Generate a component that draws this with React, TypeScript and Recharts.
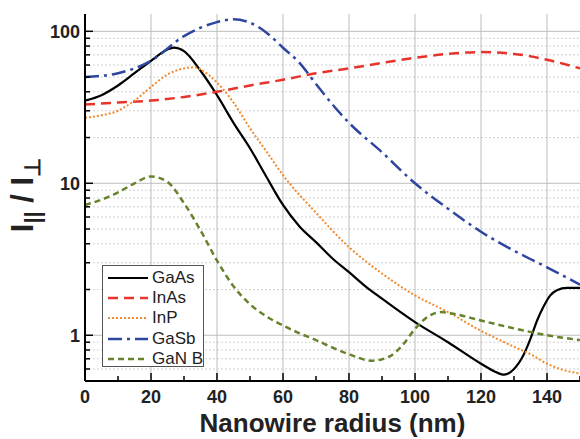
import { LineChart, Line, XAxis, YAxis, ReferenceLine } from 'recharts'

// radius (nm) / ratio pairs
const gaasR = [0, 5, 10, 15, 20, 25, 27, 30, 35, 40, 45, 50, 55, 60, 65, 70, 75, 80, 85, 90, 100, 110, 120, 124, 127, 130, 133, 135, 137, 139, 141, 143, 146, 150]
const gaasV = [35, 38, 44, 53, 64, 76, 78, 74, 55, 38, 25, 17, 11, 7.2, 5.2, 4.1, 3.2, 2.6, 2.1, 1.74, 1.22, 0.9, 0.65, 0.58, 0.55, 0.6, 0.75, 0.95, 1.25, 1.55, 1.83, 1.98, 2.05, 2.05]

const inasR = [0, 10, 20, 30, 40, 50, 60, 70, 80, 90, 100, 110, 120, 130, 140, 150]
const inasV = [33, 34, 35, 37, 40, 44, 48, 53, 57, 62, 67, 71, 73, 71, 65, 57]

const inpR = [0, 5, 10, 15, 20, 25, 30, 33, 35, 40, 45, 50, 55, 60, 70, 80, 90, 100, 110, 120, 130, 135, 140, 145, 150]
const inpV = [27, 28, 30, 35, 43, 52, 57, 58, 56, 46, 34, 23, 16.2, 11.3, 6.4, 3.8, 2.55, 1.83, 1.42, 1.07, 0.84, 0.75, 0.65, 0.59, 0.56]

const gasbR = [0, 10, 20, 30, 40, 45, 50, 55, 60, 65, 70, 75, 80, 90, 100, 110, 120, 130, 140, 150]
const gasbV = [50, 53, 64, 93, 115, 120, 114, 98, 78, 62, 45, 33, 25, 16, 10, 6.8, 4.8, 3.6, 2.8, 2.15]

const ganR = [0, 5, 10, 15, 20, 25, 30, 35, 40, 45, 50, 55, 60, 65, 70, 75, 80, 87, 92, 96, 100, 104, 108, 112, 120, 130, 140, 150]
const ganV = [7.2, 7.8, 8.7, 10, 11.1, 10.2, 7.4, 4.9, 3.1, 2.1, 1.6, 1.33, 1.16, 1.03, 0.93, 0.83, 0.75, 0.68, 0.72, 0.85, 1.1, 1.33, 1.42, 1.38, 1.25, 1.11, 1.0, 0.93]

const xTicks = [0, 10, 20, 30, 40, 50, 60, 70, 80, 90, 100, 110, 120, 130, 140, 150]
const yTicks = [0.5, 0.6, 0.7, 0.8, 0.9, 1, 2, 3, 4, 5, 6, 7, 8, 9, 10, 20, 30, 40, 50, 60, 70, 80, 90, 100]
const yMajor = [1, 10, 100]

const zip = (r: number[], v: number[]) => r.map((x, i) => ({ r: x, v: v[i] }))

const series = [
  { name: 'GaAs', data: zip(gaasR, gaasV), color: '#000000', dash: undefined, width: 2.2 },
  { name: 'InAs', data: zip(inasR, inasV), color: '#e8332a', dash: '10 6', width: 2.5 },
  { name: 'InP', data: zip(inpR, inpV), color: '#f08a2c', dash: '2 2', width: 2 },
  { name: 'GaSb', data: zip(gasbR, gasbV), color: '#2e46a0', dash: '14 5 3 5', width: 2.5 },
  { name: 'GaN B', data: zip(ganR, ganV), color: '#66822a', dash: '6 4', width: 2.5 },
]

const font = '"Liberation Sans", Arial, sans-serif'

function XTick({ x, y, payload }: any) {
  const major = payload.value % 20 === 0
  return (
    <g>
      <line x1={x} x2={x} y1={y} y2={y - (major ? 8 : 5)} stroke="#000" strokeWidth={1.5} />
      {major && (
        <text x={x} y={y + 22} textAnchor="middle" fontSize={18} fontWeight="bold" fontFamily={font} fill="#222">
          {payload.value}
        </text>
      )}
    </g>
  )
}

function TopTick({ x, y, payload }: any) {
  const major = payload.value % 20 === 0
  return <line x1={x} x2={x} y1={y} y2={y + (major ? 8 : 5)} stroke="#000" strokeWidth={1.5} />
}

function YTick({ x, y, payload }: any) {
  const major = yMajor.includes(payload.value)
  return (
    <g>
      <line x1={x} x2={x + (major ? 8 : 5)} y1={y} y2={y} stroke="#000" strokeWidth={1.5} />
      {major && (
        <text x={x - 5} y={y} dy={6.5} textAnchor="end" fontSize={18} fontWeight="bold" fontFamily={font} fill="#222">
          {payload.value}
        </text>
      )}
    </g>
  )
}

export default function App() {
  return (
    <div style={{ position: 'absolute', left: 0, top: 0, width: 580, height: 439, background: '#fff' }}>
      <LineChart width={580} height={439} margin={{ top: 14, right: 0, bottom: 0, left: 0 }}>
        <XAxis
          dataKey="r"
          type="number"
          domain={[0, 150]}
          ticks={xTicks}
          interval={0}
          height={58}
          tickSize={0}
          tickMargin={0}
          tick={<XTick />}
          axisLine={{ stroke: '#000', strokeWidth: 2 }}
          allowDuplicatedCategory={false}
        />
        <XAxis
          xAxisId="top"
          orientation="top"
          dataKey="r"
          type="number"
          domain={[0, 150]}
          ticks={xTicks}
          interval={0}
          height={0}
          tickSize={0}
          tickMargin={0}
          tick={<TopTick />}
          axisLine={{ stroke: '#000', strokeWidth: 2 }}
        />
        <YAxis
          dataKey="v"
          scale="log"
          domain={[0.5, 130]}
          allowDataOverflow
          ticks={yTicks}
          interval={0}
          width={85}
          tickSize={0}
          tickMargin={0}
          tick={<YTick />}
          axisLine={{ stroke: '#000', strokeWidth: 2 }}
          label={{
            content: () => (
              <text
                x={33}
                y={195}
                transform="rotate(-90, 33, 195)"
                textAnchor="middle"
                fontSize={31}
                fontWeight="bold"
                fontFamily={font}
                fill="#222"
              >
                <tspan>I</tspan>
                <tspan dy={7} fontSize={22}>||</tspan>
                <tspan dy={-7}> / I</tspan>
                <tspan dy={7} fontSize={22}>⊥</tspan>
              </text>
            ),
          }}
        />
        {yTicks.map((t) => (
          <ReferenceLine
            key={'y' + t}
            y={t}
            stroke={yMajor.includes(t) ? '#bdbdbd' : '#d2d2d2'}
            strokeWidth={1}
            strokeDasharray={yMajor.includes(t) ? undefined : '2 2'}
          />
        ))}
        {xTicks
          .filter((t) => t % 20 === 0 && t > 0)
          .map((t) => (
            <ReferenceLine key={'x' + t} x={t} stroke="#bdbdbd" strokeWidth={1} />
          ))}
        {series.map((s) => (
          <Line
            key={s.name}
            data={s.data}
            dataKey="v"
            name={s.name}
            type="monotone"
            stroke={s.color}
            strokeWidth={s.width}
            strokeDasharray={s.dash}
            dot={false}
            isAnimationActive={false}
          />
        ))}
      </LineChart>
      <div
        style={{
          position: 'absolute',
          left: 102,
          top: 265,
          width: 102,
          height: 102,
          border: '1px solid #555',
          background: '#fff',
          fontFamily: font,
          fontSize: 17,
          color: '#222',
          boxSizing: 'border-box',
          paddingTop: 2,
        }}
      >
        {series.map((s) => (
          <div key={s.name} style={{ display: 'flex', alignItems: 'center', height: 20.2, paddingLeft: 5 }}>
            <svg width={40} height={6} style={{ marginRight: 4 }}>
              <line x1={0} x2={40} y1={3} y2={3} stroke={s.color} strokeWidth={s.width} strokeDasharray={s.dash} />
            </svg>
            <span>{s.name}</span>
          </div>
        ))}
      </div>
      <div
        style={{
          position: 'absolute',
          left: 85,
          width: 495,
          top: 408,
          textAlign: 'center',
          fontFamily: font,
          fontWeight: 'bold',
          fontSize: 26,
          color: '#222',
        }}
      >
        Nanowire radius (nm)
      </div>
    </div>
  )
}
